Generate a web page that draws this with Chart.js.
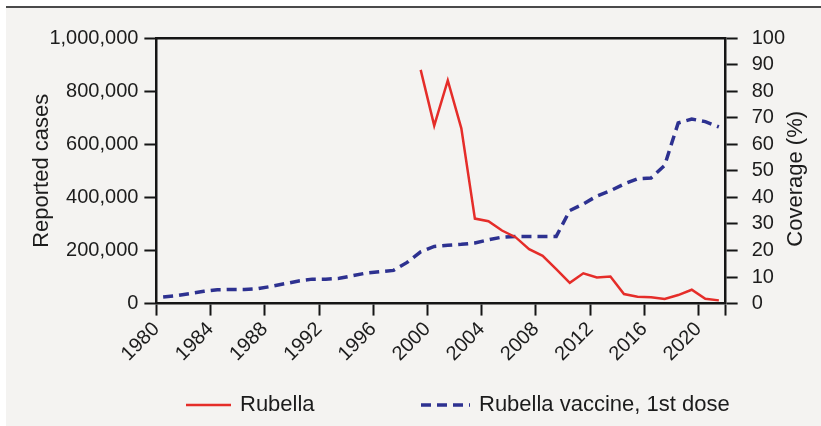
<!DOCTYPE html>
<html>
<head>
<meta charset="utf-8">
<title>Rubella cases and vaccine coverage</title>
<script src="https://cdn.jsdelivr.net/npm/chart.js@4.4.1/dist/chart.umd.min.js"></script>
<style>
    html, body { margin: 0; padding: 0; background: #fff; }
    #panel {
        position: absolute; left: 6px; top: 6px; width: 815px; height: 420px;
        background: #f4f3f1; border-top: 2px solid #4a4a4a; box-sizing: border-box;
    }
    #wrap { position: absolute; left: 0; top: 0; width: 821px; height: 426px; }
</style>
</head>
<body>
<div id="panel"></div>
<div id="wrap"><canvas id="rubellaChart" width="821" height="426"></canvas></div>
<script>
// Annual figures, plotted at the middle of each year
const vaccineYears = [
    1980, 1981, 1982, 1983, 1984, 1985, 1986, 1987, 1988, 1989,
    1990, 1991, 1992, 1993, 1994, 1995, 1996, 1997, 1998, 1999,
    2000, 2001, 2002, 2003, 2004, 2005, 2006, 2007, 2008, 2009,
    2010, 2011, 2012, 2013, 2014, 2015, 2016, 2017, 2018, 2019,
    2020, 2021
];
const vaccineCoverage = [
    2.5, 3, 3.8, 4.6, 5.2, 5.3, 5.3, 5.6, 6.5, 7.5,
    8.5, 9.2, 9.2, 9.5, 10.5, 11.5, 12, 12.5, 15.5, 19.5,
    21.5, 22, 22.3, 22.8, 24, 25, 25.3, 25.3, 25.3, 25.3,
    35, 37.5, 40.5, 42.5, 45, 47, 47.3, 52, 68, 69.5,
    68.5, 66.5
];

const rubellaYears = [
    1999, 2000, 2001, 2002, 2003, 2004, 2005, 2006, 2007, 2008,
    2009, 2010, 2011, 2012, 2013, 2014, 2015, 2016, 2017, 2018,
    2019, 2020, 2021
];
const rubellaCases = [
    880000, 670000, 840000, 660000, 320000, 310000, 275000, 250000, 205000, 180000,
    130000, 78000, 114000, 98000, 102000, 36000, 26000, 24000, 17000, 32000,
    52000, 18000, 12000
];

const yearTicks = [1980, 1984, 1988, 1992, 1996, 2000, 2004, 2008, 2012, 2016, 2020];
const firstYear = 1980;
const lastYear = 2022;
const caseTicks = [0, 200000, 400000, 600000, 800000, 1000000];
const coverageTicks = [0, 10, 20, 30, 40, 50, 60, 70, 80, 90, 100];

const FONT = '"Liberation Sans", Arial, sans-serif';
const INK = '#1c1c1c';
const AXIS = '#151515';

const toPoints = (years, values) => years.map((yr, i) => ({ x: yr + 0.5, y: values[i] }));

// right-hand title reads upward like the left one, plus a legend row under the axis
const extras = {
    id: 'extras',
    afterDraw(chart) {
        const { ctx, chartArea } = chart;
        ctx.save();
        ctx.fillStyle = INK;
        ctx.font = '22px ' + FONT;
        ctx.textAlign = 'center';
        ctx.textBaseline = 'middle';
        ctx.translate(chartArea.right + 70, (chartArea.top + chartArea.bottom) / 2 + 8);
        ctx.rotate(-Math.PI / 2);
        ctx.fillText('Coverage (%)', 0, 0);
        ctx.restore();

        const legendY = 405;
        const slots = [{ x: 186, w: 45 }, { x: 421, w: 49 }];
        chart.data.datasets.forEach((ds, i) => {
            const s = slots[i];
            ctx.save();
            ctx.strokeStyle = ds.borderColor;
            ctx.lineWidth = ds.borderWidth;
            ctx.setLineDash(ds.borderDash || []);
            ctx.beginPath();
            ctx.moveTo(s.x, legendY);
            ctx.lineTo(s.x + s.w, legendY);
            ctx.stroke();
            ctx.setLineDash([]);
            ctx.fillStyle = INK;
            ctx.font = '22px ' + FONT;
            ctx.textAlign = 'left';
            ctx.textBaseline = 'middle';
            ctx.fillText(ds.label, s.x + s.w + 9, legendY);
            ctx.restore();
        });
    }
};

const fixedTicks = list => scale => { scale.ticks = list.map(v => ({ value: v })); };

const yAxisBase = {
    min: 0,
    grid: { drawOnChartArea: false, color: AXIS, tickLength: 12, tickWidth: 2 },
    border: { color: AXIS, width: 2.5 },
    ticks: { color: INK, font: { family: FONT, size: 20 }, padding: 6, autoSkip: false }
};

new Chart(document.getElementById('rubellaChart'), {
    type: 'line',
    data: {
        datasets: [{
            label: 'Rubella',
            data: toPoints(rubellaYears, rubellaCases),
            yAxisID: 'y',
            borderColor: '#e52d29',
            borderWidth: 2.5,
            pointRadius: 0,
            tension: 0
        }, {
            label: 'Rubella vaccine, 1st dose',
            data: toPoints(vaccineYears, vaccineCoverage),
            yAxisID: 'y1',
            borderColor: '#2d3190',
            borderWidth: 3.5,
            borderDash: [10, 6],
            pointRadius: 0,
            tension: 0
        }]
    },
    options: {
        responsive: false,
        animation: false,
        layout: { padding: { left: 29, right: 22, top: 30, bottom: 58 } },
        plugins: { legend: { display: false }, tooltip: { enabled: false } },
        scales: {
            x: {
                type: 'linear',
                min: firstYear,
                max: lastYear,
                afterBuildTicks: fixedTicks([...yearTicks, lastYear]),
                grid: { drawOnChartArea: false, color: AXIS, tickLength: 12, tickWidth: 2 },
                border: { color: AXIS, width: 2.5 },
                ticks: {
                    color: INK,
                    font: { family: FONT, size: 20 },
                    autoSkip: false,
                    minRotation: 45,
                    maxRotation: 45,
                    padding: 2,
                    callback: v => yearTicks.includes(v) ? String(v) : ''
                }
            },
            xTop: {
                type: 'linear',
                position: 'top',
                min: firstYear,
                max: lastYear,
                grid: { display: false },
                ticks: { display: false },
                border: { color: AXIS, width: 2.5 }
            },
            y: {
                ...yAxisBase,
                position: 'left',
                max: 1000000,
                afterBuildTicks: fixedTicks(caseTicks),
                ticks: { ...yAxisBase.ticks, callback: v => v.toLocaleString('en-US') },
                title: {
                    display: true,
                    text: 'Reported cases',
                    color: INK,
                    font: { family: FONT, size: 22 },
                    padding: { top: 0, bottom: -12 }
                }
            },
            y1: {
                ...yAxisBase,
                position: 'right',
                max: 100,
                afterBuildTicks: fixedTicks(coverageTicks),
                ticks: { ...yAxisBase.ticks, padding: 14 }
            }
        }
    },
    plugins: [extras]
});
</script>
</body>
</html>
